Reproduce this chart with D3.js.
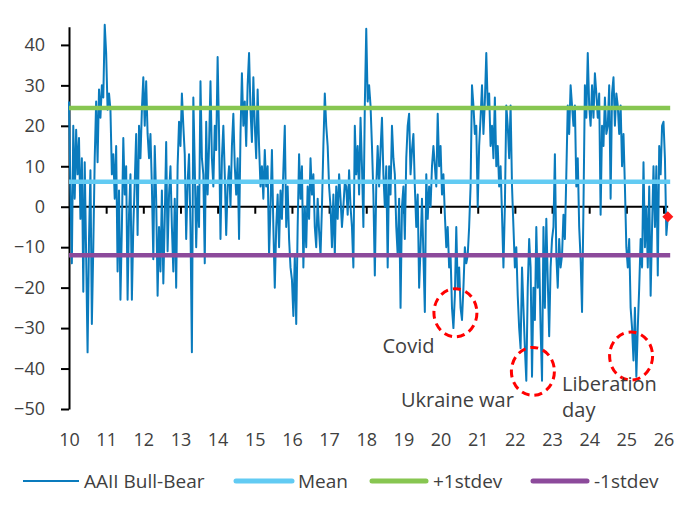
<!DOCTYPE html>
<html><head><meta charset="utf-8">
<script src="https://cdn.jsdelivr.net/npm/d3@7"></script>
<style>
body{margin:0;background:#fff}
svg{display:block}
text{font-family:"Open Sans",sans-serif;fill:#404040}
</style>
</head><body>
<svg id="c" width="700" height="506"></svg>
<script>
// AAII Bull-Bear spread, bi-weekly readings per year
const y2010 = [26,4,-14,20,2,19,8,17,-3,12,-21,11,-12,-36,-8,9,-29,-10,12,26,11,29,22,30,27,45];
const y2011 = [38,24,28,24,8,13,2,15,-16,4,-23,-5,17,3,10,-23,-2,8,-23,-5,6,18,-7,20,12,24];
const y2012 = [32,20,31,18,12,18,5,-13,15,2,-22,-5,-16,4,-19,-3,16,-11,3,10,-5,-16,2,-20,10,21];
const y2013 = [15,28,20,13,-8,6,13,-5,-36,27,10,-10,5,-5,31,12,8,-14,21,3,15,31,12,5,20,14];
const y2014 = [37,18,-8,12,20,8,-7,5,10,0,15,23,10,3,12,-8,18,33,20,26,15,30,38,24,16,32];
const y2015 = [20,12,29,15,5,10,2,14,5,10,-12,0,14,-5,-20,-5,3,-10,4,-3,9,20,-5,5,-8,-15];
const y2016 = [-18,-27,-12,-29,-5,13,2,10,-15,0,-10,5,-3,12,3,8,-5,-10,2,-6,-12,0,15,28,20,15];
const y2017 = [5,0,-10,3,-12,5,-3,8,2,-5,0,6,5,-2,9,0,-5,-15,20,8,15,3,22,10,-5,25];
const y2018 = [44,26,30,25,15,3,-17,5,15,5,14,22,8,0,10,-15,10,3,20,12,8,-5,-12,2,-25,0];
const y2019 = [5,-8,12,20,23,8,14,18,5,-5,3,-20,-10,2,-12,-26,8,-3,5,0,10,15,10,5,23,10];
const y2020 = [15,3,8,-2,-10,-5,-15,-12,-25,-30,-22,-5,-20,-15,-25,-28,-20,-10,-14,-12,-5,5,30,25,18,20];
const y2021 = [0,15,22,30,18,26,38,25,28,15,20,12,27,10,15,5,10,-2,-15,0,25,20,12,25,5,-5];
const y2022 = [-15,-10,-22,-30,-35,-15,-25,-35,-43,-20,-8,-15,-42,-20,-28,-5,-20,-12,-30,-43,-5,-25,-3,-18,-32,-15];
const y2023 = [-8,-5,13,-12,-20,-8,-15,-12,-2,-8,8,25,18,30,25,20,25,5,12,-5,-13,-26,0,30,22,38];
const y2024 = [25,20,30,22,33,28,22,28,-2,20,15,27,18,20,30,2,28,32,20,28,25,18,25,10,18,5];
const y2025 = [-10,-15,-8,-25,-30,-38,-25,-42,-30,-20,-8,-15,11,-10,0,-15,5,-22,-5,10,-5,10,-17,15,8,20];
const y2026 = [21,12,-7,-2.5];

const seriesByYear = [y2010,y2011,y2012,y2013,y2014,y2015,y2016,y2017,y2018,y2019,y2020,y2021,y2022,y2023,y2024,y2025,y2026];
const firstYear = 2010;
const readingsPerYear = 26;

const meanValue = 6.2;
const plusStdev = 24.4;
const minusStdev = -12.0;

const xTickYears = [2010,2011,2012,2013,2014,2015,2016,2017,2018,2019,2020,2021,2022,2023,2024,2025,2026];
const xTickLabels = ["10","11","12","13","14","15","16","17","18","19","20","21","22","23","24","25","26"];
const yTickValues = [-50,-40,-30,-20,-10,0,10,20,30,40];

const annotationLabels = [["Covid"],["Ukraine war"],["Liberation","day"]];
const annotationDates = [2020.40, 2022.485, 2025.128];
const annotationValues = [-26.2, -40.7, -36.9];

const legendLabels = ["AAII Bull-Bear","Mean","+1stdev","-1stdev"];

// ---- build ----
const data = [];
seriesByYear.forEach((arr, k) => arr.forEach((v, i) => data.push({t: firstYear + k + i / readingsPerYear, v})));

const svg = d3.select("#c");
const x = d3.scaleLinear().domain([2010, 2026]).range([69, 663.5]);
const y = d3.scaleLinear().domain([-50, 44.5]).range([409, 26.7]);
const xEnd = 2026.18;

const colors = {series:"#0a7bbd", mean:"#62cbf3", plus:"#87c651", minus:"#8c4a9b"};

// zero line axis with ticks
const gx = svg.append("g").attr("transform", `translate(0,${y(0)})`)
  .call(d3.axisBottom(x).tickValues(xTickYears.slice(1)).tickSize(7).tickFormat("").tickSizeOuter(0));
gx.select(".domain").attr("d", `M${x(2010)},0H${x(xEnd) - 2}`).attr("stroke", "#000").attr("stroke-width", 2);
gx.selectAll(".tick line").attr("stroke", "#000").attr("stroke-width", 2);

// y axis
const gy = svg.append("g").attr("transform", `translate(${x(2010)},0)`)
  .call(d3.axisLeft(y).tickValues(yTickValues).tickSize(8).tickPadding(16).tickSizeOuter(0));
gy.select(".domain").attr("stroke", "#000").attr("stroke-width", 2);
gy.selectAll(".tick line").attr("stroke", "#000").attr("stroke-width", 2);
gy.selectAll(".tick text").attr("font-size", 18).attr("fill", "#404040").style("font-family", '"Open Sans",sans-serif');

// x tick labels at bottom
const gl = svg.append("g").attr("transform", `translate(0,446)`)
  .call(d3.axisBottom(x).tickValues(xTickYears).tickSize(0).tickPadding(0)
    .tickFormat((d, i) => xTickLabels[i]));
gl.select(".domain").remove();
gl.selectAll(".tick text").attr("font-size", 18).attr("fill", "#404040").attr("dy", "0em").attr("y", 0)
  .style("font-family", '"Open Sans",sans-serif');

// series
const line = d3.line().x(d => x(d.t)).y(d => y(d.v));
svg.append("path").datum(data).attr("d", line)
  .attr("fill", "none").attr("stroke", colors.series).attr("stroke-width", 2).attr("stroke-linejoin", "round");

// horizontal reference lines
const refs = [
  {v: meanValue, c: colors.mean},
  {v: plusStdev, c: colors.plus},
  {v: minusStdev, c: colors.minus}
];
svg.selectAll("line.ref").data(refs).join("line").attr("class", "ref")
  .attr("x1", x(2010)).attr("x2", x(xEnd))
  .attr("y1", d => y(d.v)).attr("y2", d => y(d.v))
  .attr("stroke", d => d.c).attr("stroke-width", 4.5);

// latest value marker
const last = data[data.length - 1];
const lx = x(last.t), ly = y(last.v);
svg.append("path").attr("d", `M${lx},${ly - 5.5}L${lx + 5.5},${ly}L${lx},${ly + 5.5}L${lx - 5.5},${ly}Z`)
  .attr("fill", "#ff1a1a");

// annotations
annotationLabels.forEach((lbl, i) => {
  const cx = x(annotationDates[i]), cy = y(annotationValues[i]);
  svg.append("ellipse").attr("cx", cx).attr("cy", cy).attr("rx", 21.5).attr("ry", 24)
    .attr("fill", "none").attr("stroke", "#ff0000").attr("stroke-width", 3)
    .attr("stroke-dasharray", "8,5");
});
// label placement relative to circles
{
  const c0x = x(annotationDates[0]), c0y = y(annotationValues[0]);
  svg.append("text").attr("x", c0x - 21).attr("y", c0y + 40).attr("text-anchor", "end")
    .attr("font-size", 20).text(annotationLabels[0][0]);
  const c1x = x(annotationDates[1]), c1y = y(annotationValues[1]);
  svg.append("text").attr("x", c1x - 19).attr("y", c1y + 36).attr("text-anchor", "end")
    .attr("font-size", 20).text(annotationLabels[1][0]);
  const c2x = x(annotationDates[2]), c2y = y(annotationValues[2]);
  svg.append("text").attr("x", c2x - 69).attr("y", c2y + 35)
    .attr("font-size", 20).text(annotationLabels[2][0]);
  svg.append("text").attr("x", c2x - 69).attr("y", c2y + 61)
    .attr("font-size", 20).text(annotationLabels[2][1]);
}

// legend
const legendItems = [
  {label: legendLabels[0], c: colors.series, w: 2.2, x1: 23, x2: 79, tx: 84},
  {label: legendLabels[1], c: colors.mean, w: 5, x1: 236, x2: 292, tx: 298},
  {label: legendLabels[2], c: colors.plus, w: 5, x1: 372, x2: 426, tx: 433},
  {label: legendLabels[3], c: colors.minus, w: 5, x1: 533, x2: 587, tx: 594}
];
const lg = svg.append("g");
legendItems.forEach(d => {
  lg.append("line").attr("x1", d.x1).attr("x2", d.x2).attr("y1", 481).attr("y2", 481)
    .attr("stroke", d.c).attr("stroke-width", d.w).attr("stroke-linecap", d.w > 3 ? "round" : "butt");
  lg.append("text").attr("x", d.tx).attr("y", 481).attr("dy", "0.35em")
    .attr("font-size", 19).text(d.label);
});
</script>
</body></html>
